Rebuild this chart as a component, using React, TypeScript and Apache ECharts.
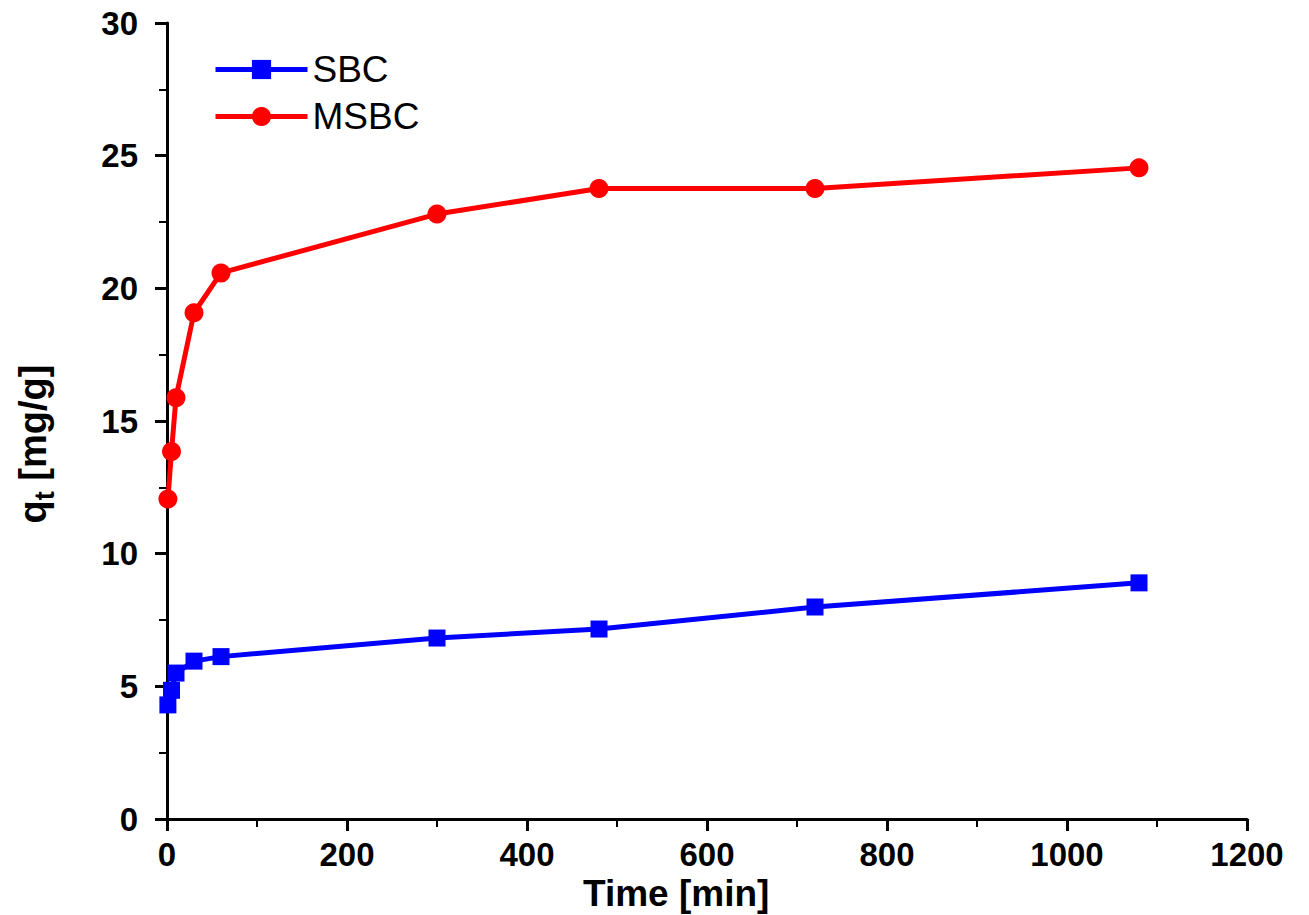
import React, { useEffect, useRef } from "react";
import * as echarts from "echarts";

const times = [1, 5, 10, 30, 60, 300, 480, 720, 1080];
const sbcValues = [4.3, 4.85, 5.5, 5.95, 6.12, 6.82, 7.16, 7.99, 8.9];
const msbcValues = [12.06, 13.85, 15.88, 19.08, 20.58, 22.8, 23.76, 23.76, 24.54];
const seriesNames = ["SBC", "MSBC"];
const xTitle = "Time [min]";

export default function App() {
  const ref = useRef<HTMLDivElement>(null);
  useEffect(() => {
    if (!ref.current) return;
    const chart = echarts.init(ref.current, undefined, { renderer: "svg" });
    const font = "Liberation Sans, Arial, sans-serif";
    chart.setOption({
      animation: false,
      backgroundColor: "#ffffff",
      grid: { left: 167, right: 62, top: 23, bottom: 96, containLabel: false },
      legend: {
        left: 208,
        top: 46,
        orient: "vertical",
        itemWidth: 92,
        itemHeight: 24,
        itemGap: 10,
        lineStyle: { width: 5 },
        textStyle: { fontFamily: font, fontSize: 37, color: "#000" },
        data: seriesNames,
      },
      xAxis: {
        type: "value",
        min: 0,
        max: 1200,
        interval: 200,
        axisLine: { show: true, onZero: false, lineStyle: { color: "#000", width: 3 } },
        axisTick: { show: true, inside: false, length: 12, lineStyle: { color: "#000", width: 3 } },
        minorTick: { show: true, splitNumber: 2, length: 8, lineStyle: { color: "#000", width: 2 } },
        splitLine: { show: false },
        axisLabel: {
          fontFamily: font,
          fontWeight: "bold",
          fontSize: 33,
          color: "#000",
          margin: 19,
          formatter: (v: number) => String(v),
        },
      },
      yAxis: {
        type: "value",
        min: 0,
        max: 30,
        interval: 5,
        axisLine: { show: true, lineStyle: { color: "#000", width: 3 } },
        axisTick: { show: true, inside: false, length: 12, lineStyle: { color: "#000", width: 3 } },
        minorTick: { show: true, splitNumber: 2, length: 8, lineStyle: { color: "#000", width: 2 } },
        splitLine: { show: false },
        axisLabel: { fontFamily: font, fontWeight: "bold", fontSize: 33, color: "#000", margin: 29 },
      },
      graphic: [
        {
          type: "text",
          left: 583,
          top: 875,
          style: { text: xTitle, fontFamily: font, fontWeight: "bold", fontSize: 37, fill: "#000" },
        },
        {
          type: "text",
          x: 36,
          y: 444,
          rotation: Math.PI / 2,
          style: {
            text: "{a|q}{b|t}{a| [mg/g]}",
            align: "center",
            verticalAlign: "middle",
            rich: {
              a: { fontFamily: font, fontWeight: "bold", fontSize: 38, fill: "#000", verticalAlign: "top", lineHeight: 44 },
              b: { fontFamily: font, fontWeight: "bold", fontSize: 27, fill: "#000", verticalAlign: "bottom", lineHeight: 44 },
            },
          },
        },
      ],
      series: [
        {
          name: seriesNames[0],
          type: "line",
          data: times.map((t, i) => [t, sbcValues[i]]),
          symbol: "rect",
          symbolSize: 17,
          itemStyle: { color: "#0000ff" },
          lineStyle: { color: "#0000ff", width: 5 },
          z: 3,
        },
        {
          name: seriesNames[1],
          type: "line",
          data: times.map((t, i) => [t, msbcValues[i]]),
          symbol: "circle",
          symbolSize: 19,
          itemStyle: { color: "#ff0000" },
          lineStyle: { color: "#ff0000", width: 5 },
          z: 4,
        },
      ],
    });
    return () => chart.dispose();
  }, []);
  return <div ref={ref} style={{ width: 1309, height: 915, position: "absolute", left: 0, top: 0 }} />;
}
